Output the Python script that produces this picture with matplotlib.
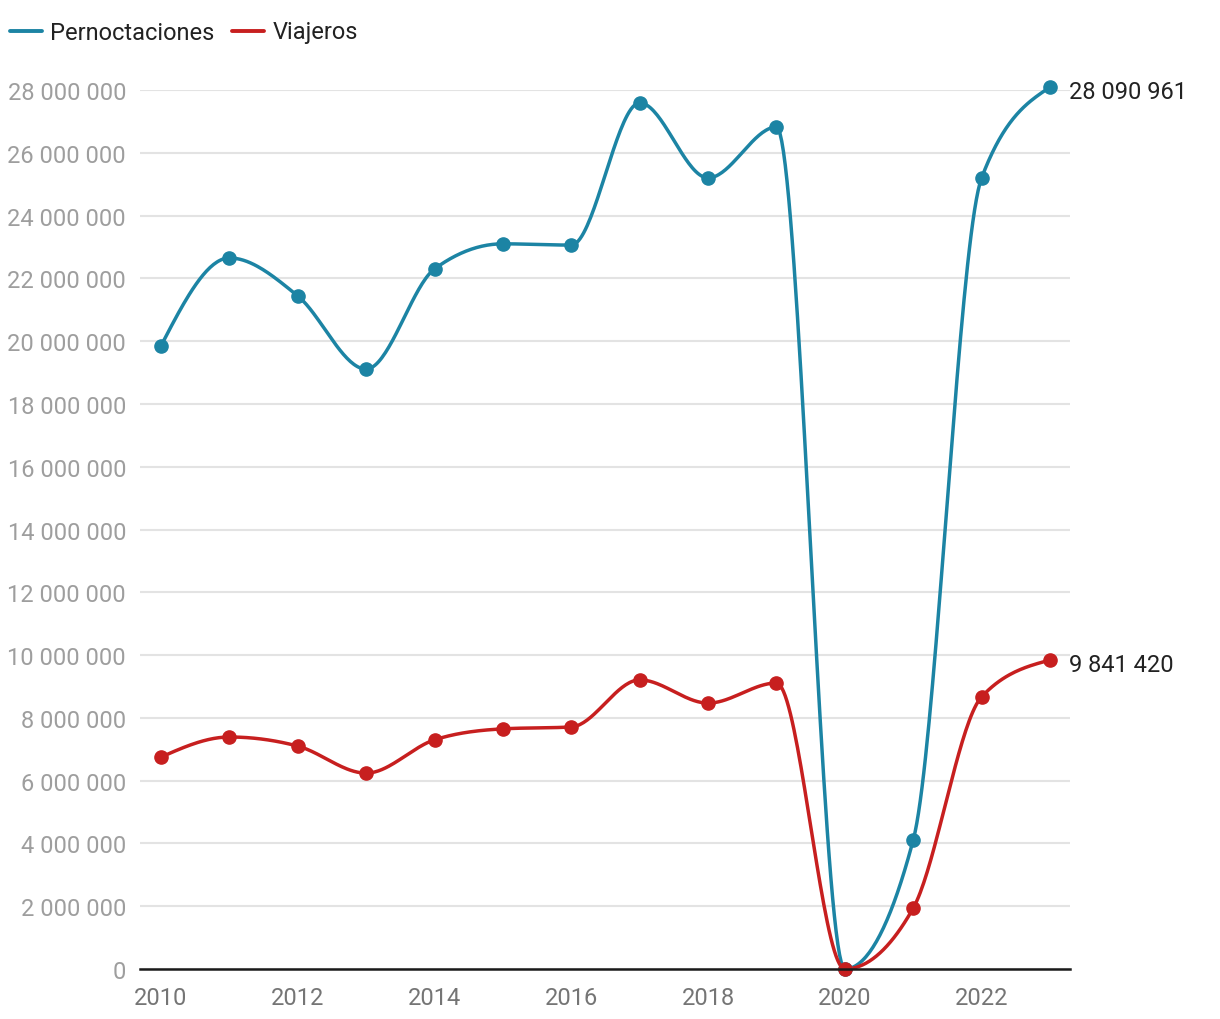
import numpy as np
import matplotlib
matplotlib.use("Agg")
import matplotlib.pyplot as plt
from matplotlib.ticker import FuncFormatter

plt.rcParams['font.family'] = ['Roboto', 'DejaVu Sans']

anios = np.arange(2010, 2024)
pernoctaciones = [19850000, 22650000, 21440000, 19110000, 22300000, 23100000, 23060000,
                  27590000, 25200000, 26820000, 0, 4110000, 25200000, 28090961]
viajeros = [6750000, 7390000, 7100000, 6240000, 7300000, 7650000, 7710000,
            9210000, 8470000, 9110000, 0, 1940000, 8670000, 9841420]

azul = '#1c84a4'
rojo = '#c71f1f'


def monotone_x(x, y, n=40):
    # curva monotona como d3.curveMonotoneX
    x = np.asarray(x, float)
    y = np.asarray(y, float)
    h = np.diff(x)
    s = np.diff(y) / h
    t = np.zeros(len(x))
    for i in range(1, len(x) - 1):
        p = (s[i - 1] * h[i] + s[i] * h[i - 1]) / (h[i - 1] + h[i])
        t[i] = (np.sign(s[i - 1]) + np.sign(s[i])) * min(abs(s[i - 1]), abs(s[i]), 0.5 * abs(p))
    t[0] = (3 * s[0] - t[1]) / 2
    t[-1] = (3 * s[-1] - t[-2]) / 2
    xs, ys = [], []
    for i in range(len(x) - 1):
        u = np.linspace(0, 1, n)
        dx = h[i] / 3
        p0 = (x[i], y[i])
        p1 = (x[i] + dx, y[i] + dx * t[i])
        p2 = (x[i + 1] - dx, y[i + 1] - dx * t[i + 1])
        p3 = (x[i + 1], y[i + 1])
        bx = (1-u)**3*p0[0] + 3*(1-u)**2*u*p1[0] + 3*(1-u)*u**2*p2[0] + u**3*p3[0]
        by = (1-u)**3*p0[1] + 3*(1-u)**2*u*p1[1] + 3*(1-u)*u**2*p2[1] + u**3*p3[1]
        xs.extend(bx)
        ys.extend(by)
    return np.array(xs), np.array(ys)


fig = plt.figure(figsize=(12.2, 10.2), dpi=100)
ax = fig.add_axes([140/1220, 50/1020, 930/1220, 879/1020])

for serie, color in [(pernoctaciones, azul), (viajeros, rojo)]:
    cx, cy = monotone_x(anios, serie)
    ax.plot(cx, cy, color=color, lw=2.5, clip_on=False, zorder=3, solid_capstyle='round')
    ax.plot(anios, serie, 'o', color=color, ms=9.5, clip_on=False, zorder=4)

ax.set_xlim(2010 - 21/68.38, 2023 + 20/68.38)
ax.set_ylim(0, 28000000)
ax.set_yticks(np.arange(0, 28000001, 2000000))
ax.set_xticks(np.arange(2010, 2024, 2))
ax.yaxis.set_major_formatter(FuncFormatter(lambda v, p: f"{int(v):,}".replace(",", " ")))
ax.grid(axis='y', color='#e3e3e3', lw=1.5)
ax.set_axisbelow(True)
for lado in ['top', 'right', 'left']:
    ax.spines[lado].set_visible(False)
ax.spines['bottom'].set_color('#1a1a1a')
ax.spines['bottom'].set_linewidth(1.8)
ax.spines['bottom'].set_zorder(5)
ax.tick_params(axis='y', length=0, pad=10, labelsize=17, labelcolor='#9e9e9e')
ax.tick_params(axis='x', length=0, pad=12, labelsize=17, labelcolor='#757575')

ax.annotate("28 090 961", (anios[-1], pernoctaciones[-1]), xytext=(14, -3),
            textcoords='offset points', va='center', ha='left', fontsize=17, color='#222222',
            annotation_clip=False)
ax.annotate("9 841 420", (anios[-1], viajeros[-1]), xytext=(14, -3),
            textcoords='offset points', va='center', ha='left', fontsize=17, color='#222222',
            annotation_clip=False)

# leyenda
fig.lines.append(plt.Line2D([10/1220, 42/1220], [1 - 32/1020] * 2, color=azul, lw=2.8,
                            transform=fig.transFigure, solid_capstyle='round'))
fig.text(50/1220, 1 - 33/1020, "Pernoctaciones", fontsize=17, color='#222222', va='center')
fig.lines.append(plt.Line2D([232/1220, 264/1220], [1 - 32/1020] * 2, color=rojo, lw=2.8,
                            transform=fig.transFigure, solid_capstyle='round'))
fig.text(273/1220, 1 - 33/1020, "Viajeros", fontsize=17, color='#222222', va='center')

fig.savefig("out.png", dpi=100)
